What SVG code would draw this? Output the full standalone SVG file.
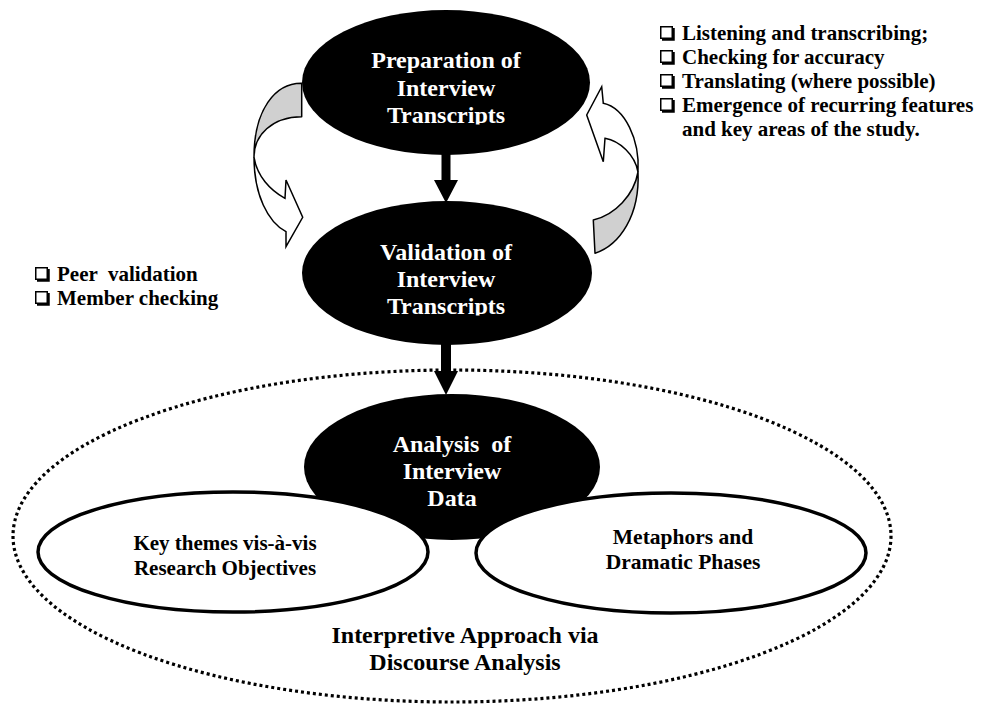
<svg xmlns="http://www.w3.org/2000/svg" width="981" height="709" viewBox="0 0 981 709">
  <style>
    .t { font-family: "Liberation Serif", "Times New Roman", serif; font-weight: bold; }
    .w { fill: #ffffff; font-size: 24px; text-anchor: middle; }
    .k { fill: #000000; }
    .lst { font-size: 21px; }
    .ctr { text-anchor: middle; }
    .curl-back { fill: #d0d0d0; stroke: #000; stroke-width: 1.5; stroke-linejoin: round; }
    .curl-front { fill: #ffffff; stroke: #000; stroke-width: 1.5; stroke-linejoin: miter; }
    .sub { fill: #ffffff; stroke: #000; stroke-width: 3.5; }
    .solid { fill: #000; }
  </style>
  <defs>
    <!-- drop-shadowed check box used as list bullet -->
    <symbol id="box" viewBox="0 0 15 15" width="15" height="15" overflow="visible">
      <rect x="0.75" y="0.75" width="11.5" height="11.5" fill="#fff" stroke="#000" stroke-width="1.5"/>
      <polyline points="2,13.5 13.5,13.5 13.5,2" fill="none" stroke="#000" stroke-width="2.5"/>
    </symbol>
    <clipPath id="clipPrep"><rect x="300" y="0" width="300" height="124.5"/></clipPath>
    <clipPath id="clipVal"><rect x="300" y="190" width="300" height="125.5"/></clipPath>
  </defs>

  <!-- outer dotted boundary of the analysis stage -->
  <g id="interpretive-approach">
    <ellipse cx="452" cy="536" rx="439" ry="166" fill="none" stroke="#000" stroke-width="3.2" stroke-dasharray="3 3"/>
    <text class="t k ctr" font-size="24" x="465" y="643">Interpretive Approach via</text>
    <text class="t k ctr" font-size="24" x="465" y="670">Discourse Analysis</text>
  </g>

  <g id="preparation">
    <ellipse cx="446" cy="82.5" rx="144" ry="72.5" class="solid"/>
    <g clip-path="url(#clipPrep)">
      <text class="t w" x="446" y="68">Preparation of</text>
      <text class="t w" x="446" y="96">Interview</text>
      <text class="t w" x="446" y="123">Transcripts</text>
    </g>
  </g>

  <g id="validation">
    <ellipse cx="447" cy="273" rx="145" ry="72" class="solid"/>
    <g clip-path="url(#clipVal)">
      <text class="t w" x="446" y="260">Validation of</text>
      <text class="t w" x="446" y="287">Interview</text>
      <text class="t w" x="446" y="314">Transcripts</text>
    </g>
  </g>

  <g id="analysis">
    <ellipse cx="452" cy="467" rx="148" ry="73" class="solid"/>
    <text class="t w" x="452" y="452" xml:space="preserve">Analysis  of</text>
    <text class="t w" x="452" y="479">Interview</text>
    <text class="t w" x="452" y="506">Data</text>
  </g>

  <g id="key-themes">
    <ellipse cx="233" cy="552" rx="195" ry="60" class="sub"/>
    <text class="t k ctr" font-size="21" x="225" y="550">Key themes vis-à-vis</text>
    <text class="t k ctr" font-size="21" x="225" y="575">Research Objectives</text>
  </g>

  <g id="metaphors">
    <ellipse cx="671" cy="553" rx="195" ry="60" class="sub"/>
    <text class="t k ctr" font-size="21.5" x="683" y="544">Metaphors and</text>
    <text class="t k ctr" font-size="21.5" x="683" y="569">Dramatic Phases</text>
  </g>

  <g id="preparation-tasks">
    <use href="#box" x="660" y="26"/>
    <text class="t k lst" x="682" y="40">Listening and transcribing;</text>
    <use href="#box" x="660" y="50"/>
    <text class="t k lst" x="682" y="64">Checking for accuracy</text>
    <use href="#box" x="660" y="74"/>
    <text class="t k lst" x="682" y="88">Translating (where possible)</text>
    <use href="#box" x="660" y="98"/>
    <text class="t k lst" x="682" y="112">Emergence of recurring features</text>
    <text class="t k lst" x="682" y="136">and key areas of the study.</text>
  </g>

  <g id="validation-tasks">
    <use href="#box" x="35" y="267"/>
    <text class="t k lst" x="57" y="281" xml:space="preserve">Peer  validation</text>
    <use href="#box" x="35" y="291"/>
    <text class="t k lst" x="57" y="305">Member checking</text>
  </g>

  <g id="connectors">
    <!-- preparation to validation -->
    <polygon class="solid" points="441.5,154 450.5,154 450.5,180 458,180 446,203 434,180 441.5,180"/>
    <!-- validation to analysis -->
    <polygon class="solid" points="441,344 451,344 451,371 458,371 446,395 434,371 441,371"/>
    <!-- curved loop on the left, from preparation down to validation -->
    <path class="curl-back" d="M301.7,83.3 C275,83 254,110 254,157 C254,135 272,117 301.7,116.7 Z"/>
    <path class="curl-front" d="M254,157 C254,195 268,222 286,231.7 L286,246.7 L302.7,217.3 L286,180 L285,198.3 C270,190 257,176 254,157 Z"/>
    <!-- curved loop on the right, from validation back up to preparation -->
    <path class="curl-back" d="M593.3,220 L595,253.3 C620,245 640,215 638,172 C634,195 615,215 593.3,220 Z"/>
    <path class="curl-front" d="M638,172 C640,140 625,108 603.3,103.3 L601.7,86.7 L586.7,115 L603.3,161.7 L605,138.3 C620,141 635,155 638,172 Z"/>
  </g>
</svg>
